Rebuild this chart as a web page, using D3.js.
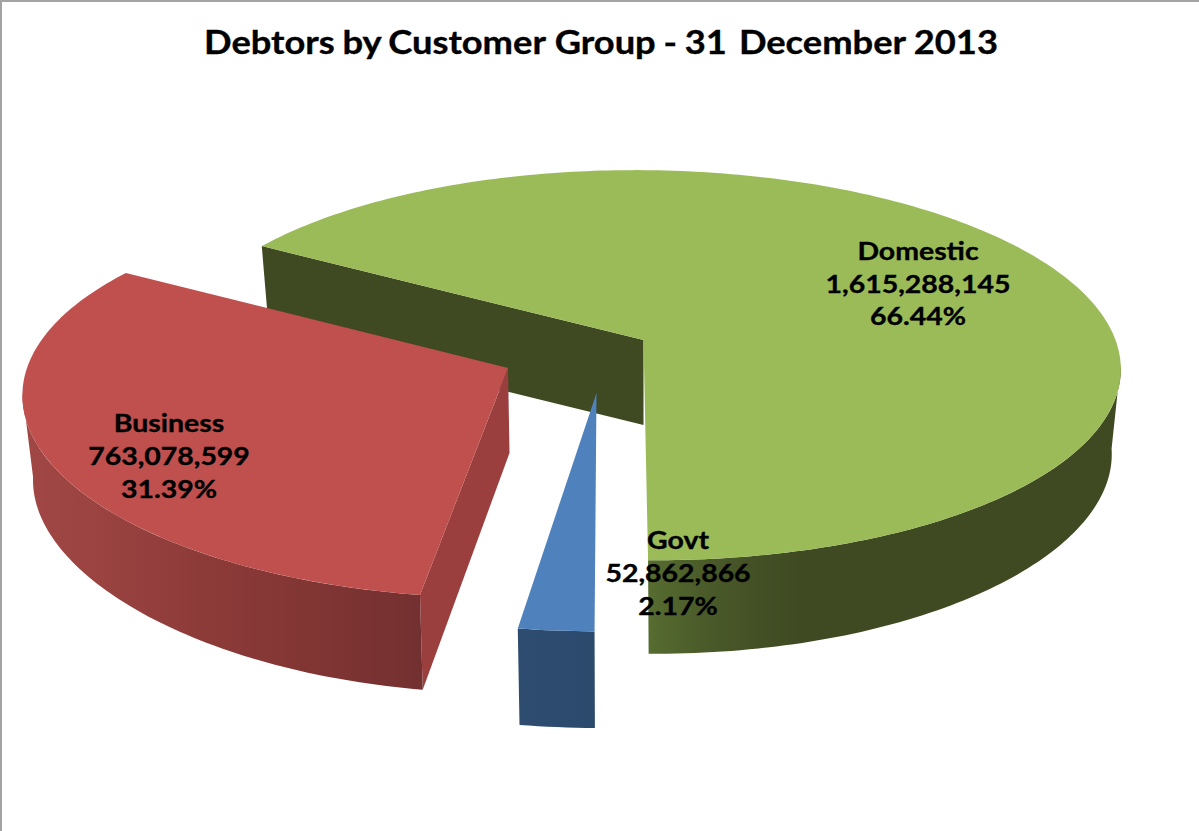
<!DOCTYPE html>
<html>
<head>
<meta charset="utf-8">
<title>Debtors by Customer Group</title>
<script src="https://cdn.jsdelivr.net/npm/d3@7"></script>
<style>
  html, body { margin: 0; padding: 0; background: #fff; }
  svg { display: block; }
  text { font-family: Lato, "Open Sans", sans-serif; font-weight: 700; fill: #000; stroke: #000; stroke-width: 0.35; }
</style>
</head>
<body>
<svg id="chart" width="1199" height="831"></svg>
<script>
// Debtor balances by customer group, 31 December 2013
const titleWords = ["Debtors", "by", "Customer", "Group", "-", "31", "December", "2013"];
const titleGaps = [0, -1, -2, 0, -1, -1, 3, -1];
const groups = ["Domestic", "Govt", "Business"];
const balances = [1615288145, 52862866, 763078599];
const percentLabels = ["66.44%", "2.17%", "31.39%"];

const topColours = ["#9bbb59", "#4f81bd", "#bf504d"];
const faceColours = ["#3f4a22", "#2d4a6d", "#9b3f3e"];

// Outer wall shading: gradient stops along the horizontal axis of the page
const wallStops = [
  { x: [649, 700, 760, 800, 1120], colours: ["#566c30", "#4b5c2a", "#434f25", "#3f4a22", "#3f4a22"] },
  { x: [519, 595], colours: ["#2e4c70", "#2c4a6c"] },
  { x: [33, 100, 200, 300, 423], colours: ["#a04745", "#9a4341", "#8d3b39", "#823634", "#733030"] }
];

// Perspective discs for the top and underside of each exploded slice:
// pivot, radii, depth foreshortening and a slight lean.
const discs = [
  { top: { px: 643.5, py: 340, rx: 472, ry: 191.8, k: 0.129, kx: 0.129, sh: 0.05 },
    bot: { px: 643.5, py: 425, rx: 463, ry: 191, k: 0.165, kx: 0.129, sh: 0.05 } },
  { top: { px: 596.5, py: 393, rx: 497, ry: 209.8, k: 0.12, kx: 0.12, sh: 0.02 },
    bot: { px: 596.5, py: 478, rx: 488, ry: 220, k: 0.12, kx: 0.12, sh: 0.02 } },
  { top: { px: 508, py: 368, rx: 481, ry: 196, k: 0.1475, kx: 0.125, sh: -0.03 },
    bot: { px: 509.5, py: 453, rx: 472, ry: 192, k: 0.2, kx: 0.125, sh: -0.03 } }
];

const svg = d3.select("#chart");
const deg = Math.PI / 180;
const polygon = d3.line();
const defs = svg.append("defs");

// Frame of the chart area
svg.append("path")
  .attr("d", "M1,831V1H1199")
  .attr("fill", "none")
  .attr("stroke", "#a3a3a3")
  .attr("stroke-width", 2);

function project(d, theta) {
  const u = Math.sin(theta), v = -Math.cos(theta);
  const sy = 1 / (1 - d.k * v), sx = 1 / (1 - d.kx * v);
  const dy = d.ry * v * sy;
  return [d.px + d.rx * u * sx + d.sh * dy, d.py + dy];
}

const slices = d3.pie().sort(null)
  .startAngle(-58.5 * deg)
  .endAngle((360 - 58.5) * deg)(balances);

function rim(d, a0, a1) {
  const n = Math.max(2, Math.ceil(Math.abs(a1 - a0) / deg));
  return d3.range(n + 1).map(i => project(d, a0 + (a1 - a0) * i / n));
}

function drawWall(g, i, a0, a1) {
  const stops = wallStops[i];
  const x0 = stops.x[0], x1 = stops.x[stops.x.length - 1];
  const offset = d3.scaleLinear().domain([x0, x1]).range([0, 1]);
  const grad = defs.append("linearGradient")
    .attr("id", "wall" + i)
    .attr("gradientUnits", "userSpaceOnUse")
    .attr("x1", x0).attr("x2", x1).attr("y1", 0).attr("y2", 0);
  grad.selectAll("stop").data(stops.x).join("stop")
    .attr("offset", x => offset(x))
    .attr("stop-color", (x, j) => stops.colours[j]);
  const outline = [...rim(discs[i].top, a0, a1), ...rim(discs[i].bot, a1, a0)];
  g.append("path")
    .attr("d", polygon(outline) + "Z")
    .attr("fill", `url(#wall${i})`);
}

function pivot(d) { return [d.px, d.py]; }

// Domestic: cut face at the back, then outer wall from its silhouette angle, then top
const domestic = svg.append("g");
{
  const s = slices[0], d = discs[0];
  domestic.append("path")
    .attr("d", polygon([pivot(d.top), project(d.top, s.startAngle), project(d.bot, s.startAngle), pivot(d.bot)]) + "Z")
    .attr("fill", faceColours[0]);
  drawWall(domestic, 0, 97 * deg, s.endAngle);
  domestic.append("path")
    .attr("d", polygon([pivot(d.top), ...rim(d.top, s.startAngle, s.endAngle)]) + "Z")
    .attr("fill", topColours[0]);
}

// Govt: thin wedge whose outer wall faces the viewer
const govt = svg.append("g");
{
  const s = slices[1], d = discs[1];
  drawWall(govt, 1, s.startAngle, s.endAngle);
  govt.append("path")
    .attr("d", polygon([pivot(d.top), ...rim(d.top, s.startAngle, s.endAngle)]) + "Z")
    .attr("fill", topColours[1]);
}

// Business: lit cut face on the right, shaded wall, top
const business = svg.append("g");
{
  const s = slices[2], d = discs[2];
  business.append("path")
    .attr("d", polygon([pivot(d.top), project(d.top, s.startAngle), project(d.bot, s.startAngle), pivot(d.bot)]) + "Z")
    .attr("fill", faceColours[2]);
  drawWall(business, 2, s.startAngle, 263 * deg);
  business.append("path")
    .attr("d", polygon([pivot(d.top), ...rim(d.top, s.startAngle, s.endAngle)]) + "Z")
    .attr("fill", topColours[2]);
}

// Title: words spaced individually to follow the original tight setting
const titleText = svg.append("text")
  .attr("transform", "translate(601,54) scale(1.1,1)")
  .attr("text-anchor", "middle")
  .attr("font-size", 33);
titleText.selectAll("tspan").data(titleWords).join("tspan")
  .attr("dx", (w, i) => titleGaps[i])
  .text((w, i) => (i ? " " : "") + w);

// Data labels: group, balance, share
const labelAnchors = [[918, 260], [678, 549], [169, 432]];
const lineGap = [32.5, 33, 33];
const fmt = d3.format(",");
groups.forEach((name, i) => {
  const lines = [name, fmt(balances[i]), percentLabels[i]];
  lines.forEach((line, j) => {
    svg.append("text")
      .attr("transform", `translate(${labelAnchors[i][0]},${labelAnchors[i][1] + j * lineGap[i]}) scale(1.185,1)`)
      .attr("text-anchor", "middle")
      .attr("font-size", 24)
      .text(line);
  });
});
</script>
</body>
</html>
